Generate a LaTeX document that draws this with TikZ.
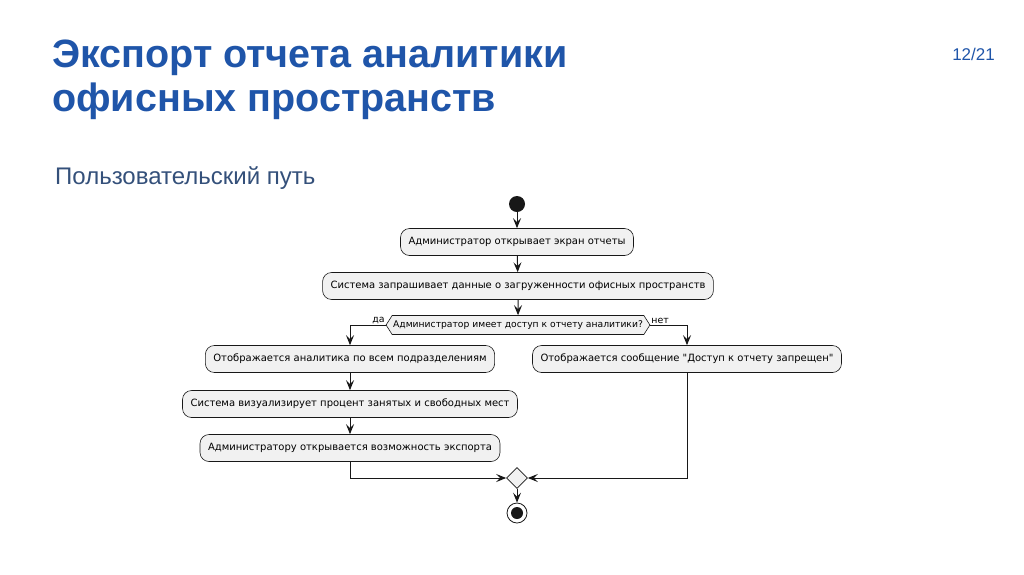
\documentclass[tikz,border=0pt]{standalone}
\usepackage{fontspec}
\setmainfont{Liberation Sans}
\newfontfamily\umlfont{DejaVu Sans}
\usetikzlibrary{arrows.meta, shapes.geometric, shapes.symbols}

\definecolor{titleblue}{HTML}{1F55A9}
\definecolor{subblue}{HTML}{34507A}
\definecolor{boxfill}{HTML}{F1F1F1}
\definecolor{umlline}{HTML}{181818}

\begin{document}
\begin{tikzpicture}[x=1pt, y=-1pt,
    action/.style={rectangle, rounded corners=9pt, draw=umlline, line width=0.6pt, fill=boxfill, minimum height=27pt, inner xsep=8pt, font=\umlfont\fontsize{10}{12}\selectfont},
    decision/.style={signal, signal to=west and east, signal pointer angle=115, draw=umlline, line width=0.6pt, fill=boxfill, minimum height=19pt, inner ysep=2pt, inner xsep=1pt, font=\umlfont\fontsize{9.2}{11}\selectfont},
    merge/.style={diamond, draw=umlline, line width=0.6pt, fill=boxfill, minimum size=21pt, inner sep=0pt},
    branch/.style={inner sep=1pt, font=\umlfont\fontsize{9.4}{10}\selectfont},
    arrow/.style={-{Stealth[length=10pt, width=8pt, inset=4pt]}, line width=1pt, umlline}
]
    \useasboundingbox (0,0) rectangle (1024,574);

    % --- Heading ---
    \node[anchor=base west, inner sep=0pt, text=titleblue, font=\fontsize{39.5}{44}\bfseries\selectfont] (title1) at (52,67) {Экспорт отчета аналитики};
    \node[anchor=base west, inner sep=0pt, text=titleblue, font=\fontsize{39.5}{44}\bfseries\selectfont] (title2) at (52,111) {офисных пространств};
    \node[anchor=base east, inner sep=0pt, text=titleblue, font=\fontsize{17}{20}\selectfont] (page) at (995,60) {12/21};
    \node[anchor=base west, inner sep=0pt, text=subblue, font=\fontsize{24}{26}\selectfont] (subtitle) at (55,184) {Пользовательский путь};

    % --- Main flow ---
    \node[circle, fill=umlline, minimum size=16pt, inner sep=0pt] (start) at (517,204) {};
    \node[action] (open) at (517,242) {Администратор открывает экран отчеты};
    \node[action] (query) at (518,286) {Система запрашивает данные о загруженности офисных пространств};
    \node[decision] (access) at (518,325) {Администратор имеет доступ к отчету аналитики?};

    % --- Branch "да" ---
    \node[action] (show) at (350,359) {Отображается аналитика по всем подразделениям};
    \node[action] (visual) at (350,404) {Система визуализирует процент занятых и свободных мест};
    \node[action] (export) at (350,448) {Администратору открывается возможность экспорта};

    % --- Branch "нет" ---
    \node[action] (denied) at (687,359) {Отображается сообщение "Доступ к отчету запрещен"};

    % --- Merge and end ---
    \node[merge] (join) at (517,478) {};
    \node[circle, draw=umlline, line width=0.8pt, fill=white, minimum size=20pt, inner sep=0pt] (stop) at (517,513) {};
    \node[circle, fill=umlline, minimum size=12pt, inner sep=0pt] (stopdot) at (stop) {};

    \node[branch, anchor=south east] (yes) at (access.west) {да};
    \node[branch, anchor=south west] (no) at (access.east) {нет};

    % --- Connectors ---
    \draw[arrow] (start) -- (open);
    \draw[arrow] (open) -- (query);
    \draw[arrow] (query) -- (access);
    \draw[arrow] (access.west) -| (show.north);
    \draw[arrow] (access.east) -| (denied.north);
    \draw[arrow] (show) -- (visual);
    \draw[arrow] (visual) -- (export);
    \draw[arrow] (export.south) |- (join.west);
    \draw[arrow] (denied.south) |- (join.east);
    \draw[arrow] (join) -- (stop);

\end{tikzpicture}
\end{document}
